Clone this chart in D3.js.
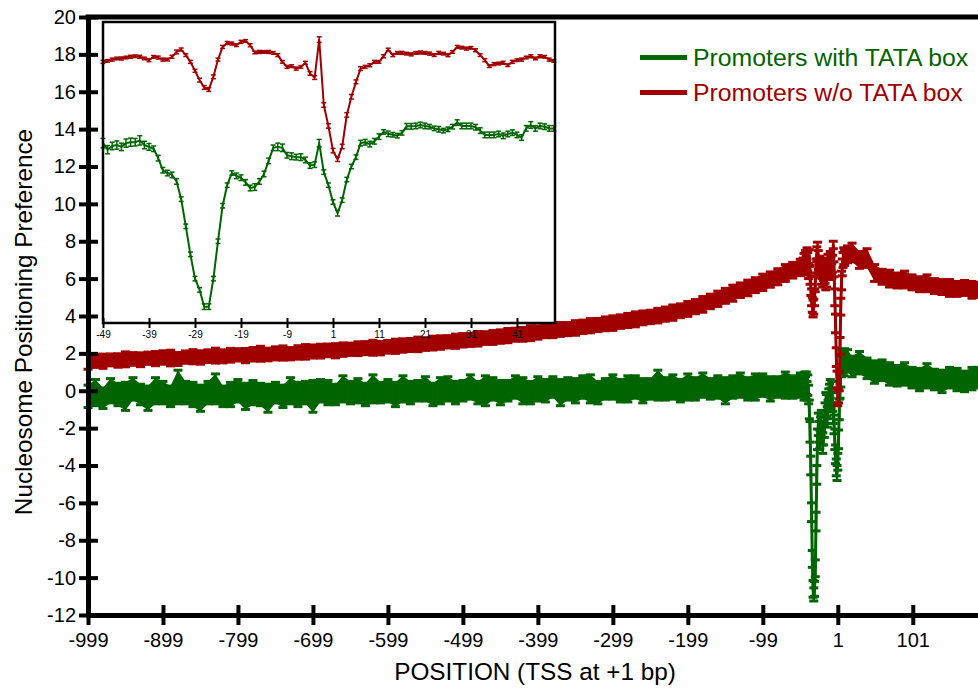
<!DOCTYPE html>
<html>
<head>
<meta charset="utf-8">
<script src="https://cdn.jsdelivr.net/npm/d3@7"></script>
<style>
  body { margin: 0; background: #fff; }
  svg { display: block; }
</style>
</head>
<body>
<svg id="chart" width="978" height="689"></svg>
<script>
// ---- Main chart data (position relative to TSS, bp) ----
// far upstream sampled every 10 bp, around the TSS every bp, downstream every ~10 bp
const farPositions = d3.range(-999, -48, 10);
const nearPositions = d3.range(-45, 11, 1);
const downPositions = [14, 20, 30, 40, 50, 60, 70, 80, 90, 100, 110, 120, 130, 140, 150, 160, 170, 180, 188];

const withTataFar = [
  -0.3, -0.1, -0.4, 0.0, -0.2, -0.3, 0.1, -0.2, -0.4, 0.0,
  -0.1, -0.3, 0.2, -0.1, -0.2, -0.4, -0.1, 0.1, -0.3, -0.2,
  0.0, -0.3, -0.1, -0.2, -0.4, -0.1, -0.3, 0.0, -0.2, -0.1,
  -0.3, 0.0, -0.1, -0.2, 0.1, -0.1, 0.0, -0.2, 0.1, -0.1,
  0.0, -0.2, 0.1, -0.1, 0.0, 0.1, -0.2, 0.0, 0.1, -0.1,
  0.0, 0.2, -0.1, 0.0, 0.1, -0.1, 0.0, 0.2, 0.0, -0.1,
  0.1, 0.0, 0.2, -0.1, 0.1, 0.0, 0.2, 0.1, -0.1, 0.1,
  0.2, 0.0, 0.1, 0.2, 0.0, 0.1, 0.3, 0.1, 0.2, 0.0,
  0.2, 0.1, 0.3, 0.1, 0.2, 0.0, 0.2, 0.3, 0.1, 0.2,
  0.3, 0.1, 0.2, 0.3, 0.2, 0.3
];
const withTataNear = [
  0.3, 0.1, 0.5, 0.2, 0.4, 0.0, 0.3, -0.2, -1.0, -2.2,
  -4.0, -6.5, -9.0, -10.6, -10.9, -10.6, -9.5, -7.0, -4.5, -2.6,
  -1.8, -2.2, -2.6, -2.0, -1.6, -2.3, -2.8, -2.4, -1.9, -1.2,
  -0.6, -0.8, -1.4, -1.0, -0.5, -0.2, 0.1, -0.4, -0.1, -0.6,
  -1.2, -1.8, -2.6, -3.4, -4.1, -4.4, -3.8, -2.6, -1.0, 0.2,
  0.8, 1.3, 1.6, 1.5, 1.4, 1.7
];
const withTataDown = [1.6, 1.3, 1.5, 1.2, 1.0, 1.1, 0.9, 0.8, 0.9, 0.7, 0.6, 0.8, 0.6, 0.5, 0.7, 0.6, 0.5, 0.65, 0.7];

const withTataFarErr = [
  0.6, 0.7, 0.55, 0.65, 0.6, 0.75, 0.6, 0.55, 0.65, 0.7,
  0.6, 0.55, 0.9, 0.6, 0.65, 0.7, 0.6, 0.8, 0.55, 0.65,
  0.6, 0.7, 0.65, 0.6, 0.75, 0.55, 0.6, 0.7, 0.65, 0.6,
  0.85, 0.6, 0.65, 0.55, 0.7, 0.6, 0.65, 0.6, 0.75, 0.55,
  0.6, 0.65, 0.7, 0.6, 0.55, 0.65, 0.6, 0.7, 0.65, 0.6,
  0.55, 0.65, 0.6, 0.8, 0.6, 0.65, 0.55, 0.6, 0.7, 0.6,
  0.65, 0.6, 0.55, 0.7, 0.6, 0.65, 0.6, 0.75, 0.6, 0.55,
  0.65, 0.6, 0.7, 0.6, 0.65, 0.55, 0.8, 0.6, 0.65, 0.6,
  0.7, 0.6, 0.65, 0.55, 0.6, 0.7, 0.6, 0.65, 0.6, 0.7,
  0.6, 0.65, 0.55, 0.7, 0.6, 0.65
];
const withTataNearErr = [
  0.5, 0.6, 0.5, 0.55, 0.6, 0.5, 0.55, 0.5, 0.5, 0.55,
  0.5, 0.5, 0.45, 0.45, 0.35, 0.4, 0.45, 0.5, 0.5, 0.55,
  0.6, 0.55, 0.5, 0.6, 0.55, 0.6, 0.55, 0.5, 0.6, 0.55,
  0.5, 0.6, 0.55, 0.5, 0.6, 0.55, 0.5, 0.55, 0.6, 0.5,
  0.55, 0.5, 0.55, 0.5, 0.45, 0.4, 0.45, 0.5, 0.55, 0.6,
  0.6, 0.55, 0.6, 0.55, 0.6, 0.55
];
const withTataDownErr = [0.6, 0.55, 0.6, 0.55, 0.6, 0.55, 0.6, 0.55, 0.6, 0.55, 0.6, 0.65, 0.55, 0.6, 0.55, 0.6, 0.55, 0.6, 0.55];

const noTataFar = [
  1.55, 1.6, 1.58, 1.65, 1.62, 1.68, 1.7, 1.66, 1.74, 1.72,
  1.78, 1.75, 1.7, 1.8, 1.82, 1.78, 1.85, 1.88, 1.84, 1.9,
  1.92, 1.88, 1.95, 1.98, 1.94, 2.0, 2.02, 1.98, 2.05, 2.08,
  2.1, 2.12, 2.16, 2.14, 2.2, 2.22, 2.25, 2.28, 2.3, 2.28,
  2.35, 2.38, 2.42, 2.45, 2.48, 2.5, 2.55, 2.58, 2.62, 2.65,
  2.7, 2.72, 2.78, 2.82, 2.85, 2.9, 2.95, 3.0, 3.02, 3.08,
  3.12, 3.18, 3.22, 3.28, 3.3, 3.36, 3.42, 3.48, 3.52, 3.58,
  3.62, 3.7, 3.76, 3.82, 3.9, 3.95, 4.02, 4.1, 4.18, 4.28,
  4.38, 4.5, 4.62, 4.78, 4.92, 5.08, 5.22, 5.38, 5.5, 5.65,
  5.8, 5.95, 6.1, 6.3, 6.45, 6.6
];
const noTataNear = [
  6.7, 6.9, 6.6, 7.0, 6.8, 7.2, 6.9, 6.4, 7.1, 6.2,
  5.6, 5.0, 4.6, 4.4, 4.5, 5.0, 5.8, 6.6, 7.3, 7.5,
  7.0, 6.6, 6.8, 6.5, 6.2, 6.4, 6.0, 6.3, 6.6, 6.2,
  5.8, 6.0, 6.5, 6.8, 6.4, 6.6, 7.0, 6.7, 6.4, 6.8,
  7.8, 6.5, 5.0, 3.6, 1.8, 0.6, -0.4, -0.3, 0.5, 2.4,
  4.5, 5.9, 6.6, 7.0, 7.2, 7.1
];
const noTataDown = [7.3, 7.4, 7.0, 7.1, 6.3, 6.1, 6.0, 5.9, 5.95, 5.8, 5.7, 5.75, 5.6, 5.55, 5.5, 5.45, 5.5, 5.4, 5.4];

const noTataFarErr = [
  0.4, 0.35, 0.38, 0.32, 0.36, 0.4, 0.34, 0.37, 0.33, 0.38,
  0.36, 0.42, 0.35, 0.33, 0.38, 0.36, 0.34, 0.4, 0.35, 0.37,
  0.33, 0.38, 0.36, 0.4, 0.34, 0.35, 0.38, 0.33, 0.36, 0.39,
  0.35, 0.37, 0.34, 0.38, 0.36, 0.33, 0.37, 0.35, 0.4, 0.36,
  0.34, 0.38, 0.36, 0.35, 0.39, 0.34, 0.37, 0.36, 0.33, 0.38,
  0.36, 0.35, 0.39, 0.34, 0.37, 0.36, 0.38, 0.35, 0.37, 0.4,
  0.36, 0.34, 0.38, 0.37, 0.35, 0.39, 0.36, 0.38, 0.35, 0.37,
  0.39, 0.36, 0.38, 0.4, 0.37, 0.36, 0.39, 0.38, 0.41, 0.37,
  0.4, 0.38, 0.42, 0.39, 0.41, 0.4, 0.43, 0.39, 0.42, 0.4,
  0.44, 0.41, 0.43, 0.45, 0.42, 0.44
];
const noTataNearErr = [
  0.4, 0.45, 0.4, 0.5, 0.4, 0.45, 0.5, 0.4, 0.45, 0.5,
  0.5, 0.45, 0.4, 0.45, 0.4, 0.45, 0.5, 0.45, 0.4, 0.45,
  0.5, 0.45, 0.4, 0.45, 0.5, 0.4, 0.45, 0.4, 0.5, 0.45,
  0.4, 0.45, 0.4, 0.5, 0.45, 0.4, 0.45, 0.5, 0.4, 0.45,
  0.2, 0.4, 0.45, 0.5, 0.5, 0.45, 0.4, 0.35, 0.5, 0.45,
  0.45, 0.5, 0.45, 0.4, 0.45, 0.4
];
const noTataDownErr = [0.45, 0.5, 0.45, 0.5, 0.45, 0.4, 0.45, 0.4, 0.45, 0.4, 0.4, 0.45, 0.4, 0.4, 0.45, 0.4, 0.4, 0.45, 0.4];

// ---- Inset data (-49 .. 49 bp) ----
const insetPositions = d3.range(-49, 50, 1);

const insetWithTata = [
  13.25, 12.9, 13.1, 13.15, 13.05, 13.25, 13.3, 13.3, 13.4, 13.15,
  13.05, 12.95, 12.45, 11.8, 11.65, 11.55, 11.2, 10.25, 8.8, 7.3,
  6.0, 5.4, 4.5, 4.5, 6.0, 8.0, 9.9, 11.0, 11.65, 11.5,
  11.4, 11.15, 10.85, 10.9, 11.2, 11.6, 12.3, 13.0, 13.05, 13.0,
  12.6, 12.55, 12.5, 12.5, 12.35, 12.05, 12.1, 13.25, 11.7, 11.0,
  10.1, 9.5, 10.2, 11.3, 12.0, 12.5, 13.25, 13.3, 13.2, 13.35,
  13.6, 13.85, 13.75, 13.7, 13.65, 13.8, 14.15, 14.15, 14.17, 14.22,
  14.17, 14.13, 14.04, 13.99, 13.92, 13.99, 14.13, 14.35, 14.17, 14.17,
  14.17, 14.1, 13.92, 13.69, 13.69, 13.69, 13.74, 13.64, 13.74, 13.81,
  13.69, 13.55, 14.04, 14.22, 14.04, 14.17, 14.13, 14.04, 14.04
];
const insetWithTataErr = [
  0.25, 0.22, 0.2, 0.22, 0.2, 0.22, 0.22, 0.2, 0.25, 0.2,
  0.18, 0.15, 0.15, 0.15, 0.15, 0.15, 0.15, 0.12, 0.12, 0.12,
  0.12, 0.12, 0.15, 0.15, 0.12, 0.12, 0.12, 0.12, 0.12, 0.15,
  0.15, 0.15, 0.15, 0.18, 0.15, 0.15, 0.15, 0.15, 0.2, 0.2,
  0.15, 0.18, 0.15, 0.18, 0.15, 0.15, 0.15, 0.2, 0.12, 0.12,
  0.12, 0.15, 0.12, 0.12, 0.12, 0.12, 0.15, 0.15, 0.15, 0.15,
  0.15, 0.12, 0.15, 0.12, 0.12, 0.12, 0.15, 0.15, 0.15, 0.15,
  0.15, 0.12, 0.12, 0.15, 0.12, 0.12, 0.12, 0.15, 0.15, 0.15,
  0.15, 0.15, 0.15, 0.15, 0.15, 0.15, 0.15, 0.15, 0.15, 0.15,
  0.15, 0.15, 0.15, 0.18, 0.15, 0.15, 0.15, 0.15, 0.15
];
const insetNoTata = [
  17.6, 17.65, 17.72, 17.78, 17.78, 17.83, 17.87, 17.9, 17.87, 17.78,
  17.69, 17.87, 17.83, 17.72, 17.72, 17.87, 18.13, 18.26, 17.96, 17.6,
  17.12, 16.62, 16.23, 16.12, 16.8, 17.72, 18.4, 18.61, 18.58, 18.49,
  18.67, 18.72, 18.49, 18.1, 18.13, 18.13, 18.13, 18.08, 17.96, 17.6,
  17.33, 17.37, 17.24, 17.33, 17.55, 16.98, 16.76, 18.79, 15.29, 14.17,
  12.85, 12.39, 13.07, 14.76, 15.73, 16.53, 17.24, 17.33, 17.42, 17.6,
  17.6, 17.9, 18.26, 17.96, 18.08, 18.08, 18.04, 18.0, 18.08, 18.1,
  18.08, 18.04, 17.96, 18.08, 18.04, 17.96, 18.13, 18.4, 18.36, 18.31,
  18.35, 18.22, 17.96, 17.69, 17.37, 17.48, 17.51, 17.55, 17.42, 17.6,
  17.69, 17.72, 17.83, 17.9, 17.78, 17.9, 17.87, 17.72, 17.65
];
const insetNoTataErr = [
  0.08, 0.07, 0.08, 0.07, 0.08, 0.07, 0.08, 0.07, 0.08, 0.07,
  0.08, 0.07, 0.08, 0.08, 0.07, 0.08, 0.1, 0.08, 0.07, 0.08,
  0.08, 0.1, 0.1, 0.1, 0.1, 0.08, 0.08, 0.08, 0.08, 0.07,
  0.08, 0.07, 0.08, 0.07, 0.08, 0.07, 0.08, 0.07, 0.08, 0.07,
  0.08, 0.07, 0.08, 0.07, 0.08, 0.1, 0.1, 0.15, 0.12, 0.12,
  0.12, 0.12, 0.12, 0.12, 0.12, 0.1, 0.1, 0.08, 0.08, 0.08,
  0.07, 0.08, 0.07, 0.08, 0.07, 0.08, 0.07, 0.08, 0.07, 0.08,
  0.07, 0.08, 0.07, 0.08, 0.07, 0.08, 0.07, 0.08, 0.07, 0.08,
  0.07, 0.08, 0.07, 0.08, 0.07, 0.08, 0.07, 0.08, 0.07, 0.08,
  0.07, 0.08, 0.07, 0.08, 0.07, 0.08, 0.07, 0.08, 0.07
];

// Axis ticks and labels
const mainXTicks = d3.range(-999, 102, 100);
const mainYTicks = d3.range(-12, 21, 2);
const insetXTicks = d3.range(-49, 42, 10);
const seriesNames = ['Promoters with TATA box', 'Promoters w/o TATA box'];

const GREEN = '#006400';
const RED = '#a00000';
const FONT = 'Arial, "Liberation Sans", sans-serif';
const plainNum = d => String(d); // hyphen minus, as in the original

const svg = d3.select('#chart');

// Scales
const x = d3.scaleLinear().domain([-999, 188]).range([88, 978]);
const y = d3.scaleLinear().domain([-12, 20]).range([615, 17]);
const xInset = d3.scaleLinear().domain([-49, 49.26]).range([103, 555]);

const mainPositions = farPositions.concat(nearPositions, downPositions);

function toPoints(positions, values, errors) {
    return positions.map((p, i) => ({ p: p, v: values[i], e: errors[i] }));
}

// Draw a series: optional error band, line, error bars with caps
function drawSeries(g, pts, xs, color, opt) {
    if (opt.band) {
        g.append('path')
            .datum(pts)
            .attr('fill', color)
            .attr('d', d3.area()
                .x(d => xs(d.p))
                .y0(d => y(d.v - d.e))
                .y1(d => y(d.v + d.e)));
    }
    g.append('path')
        .datum(pts)
        .attr('fill', 'none')
        .attr('stroke', color)
        .attr('stroke-width', opt.lineWidth)
        .attr('stroke-linejoin', 'round')
        .attr('d', d3.line().x(d => xs(d.p)).y(d => y(d.v)));

    const bars = g.append('g')
        .attr('stroke', color)
        .selectAll('g')
        .data(pts)
        .join('g');
    bars.append('line')
        .attr('x1', d => xs(d.p)).attr('x2', d => xs(d.p))
        .attr('y1', d => y(d.v - d.e)).attr('y2', d => y(d.v + d.e))
        .attr('stroke-width', opt.barWidth);
    [-1, 1].forEach(s => {
        bars.append('line')
            .attr('x1', d => xs(d.p) - opt.cap / 2).attr('x2', d => xs(d.p) + opt.cap / 2)
            .attr('y1', d => y(d.v + s * d.e)).attr('y2', d => y(d.v + s * d.e))
            .attr('stroke-width', opt.capWidth);
    });
}

// ---- Main series ----
const mainOpt = { band: true, lineWidth: 3, barWidth: 2.5, cap: 9, capWidth: 3 };
drawSeries(svg.append('g'),
    toPoints(mainPositions, withTataFar.concat(withTataNear, withTataDown),
        withTataFarErr.concat(withTataNearErr, withTataDownErr)),
    x, GREEN, mainOpt);
drawSeries(svg.append('g'),
    toPoints(mainPositions, noTataFar.concat(noTataNear, noTataDown),
        noTataFarErr.concat(noTataNearErr, noTataDownErr)),
    x, RED, mainOpt);

// ---- Main axes ----
const gy = svg.append('g')
    .attr('transform', 'translate(88,0)')
    .call(d3.axisLeft(y).tickValues(mainYTicks).tickFormat(plainNum)
        .tickSize(9).tickSizeOuter(0).tickPadding(3));
gy.attr('font-size', 20).attr('font-family', FONT);
gy.select('.domain').attr('stroke', '#000').attr('stroke-width', 5).attr('stroke-linecap', 'square');
gy.selectAll('.tick line').attr('x1', 10).attr('stroke', '#000').attr('stroke-width', 4);
gy.selectAll('.tick text').attr('fill', '#000');

const gx = svg.append('g')
    .attr('transform', 'translate(0,615)')
    .call(d3.axisBottom(x).tickValues(mainXTicks).tickFormat(plainNum)
        .tickSize(10).tickSizeOuter(0).tickPadding(8));
gx.attr('font-size', 20).attr('font-family', FONT);
gx.select('.domain').attr('stroke', '#000').attr('stroke-width', 5).attr('stroke-linecap', 'square');
gx.selectAll('.tick line').attr('y1', -10).attr('stroke', '#000').attr('stroke-width', 4);
gx.selectAll('.tick text').attr('fill', '#000');

// top frame line
svg.append('line')
    .attr('x1', x(-999)).attr('x2', x(188))
    .attr('y1', y(20)).attr('y2', y(20))
    .attr('stroke', '#000').attr('stroke-width', 5).attr('stroke-linecap', 'square');

// axis titles
svg.append('text')
    .attr('x', 535).attr('y', 680)
    .attr('text-anchor', 'middle')
    .attr('font-family', FONT).attr('font-size', 24.3)
    .text('POSITION (TSS at +1 bp)');
svg.append('text')
    .attr('transform', 'translate(32,322) rotate(-90)')
    .attr('text-anchor', 'middle')
    .attr('font-family', FONT).attr('font-size', 24.3)
    .text('Nucleosome Positioning Preference');

// ---- Inset ----
const inset = svg.append('g');
inset.append('rect')
    .attr('x', xInset(-49)).attr('y', 22)
    .attr('width', xInset.range()[1] - xInset.range()[0]).attr('height', 301)
    .attr('fill', '#fff');

const insetOpt = { band: false, lineWidth: 2, barWidth: 1.5, cap: 5, capWidth: 1.5 };
drawSeries(inset.append('g'), toPoints(insetPositions, insetWithTata, insetWithTataErr), xInset, GREEN, insetOpt);
drawSeries(inset.append('g'), toPoints(insetPositions, insetNoTata, insetNoTataErr), xInset, RED, insetOpt);

inset.append('rect')
    .attr('x', xInset(-49)).attr('y', 22)
    .attr('width', xInset.range()[1] - xInset.range()[0]).attr('height', 301)
    .attr('fill', 'none').attr('stroke', '#000').attr('stroke-width', 2.5);

const gxi = inset.append('g')
    .attr('transform', 'translate(0,323)')
    .call(d3.axisBottom(xInset).tickValues(insetXTicks).tickFormat(plainNum)
        .tickSize(5).tickSizeOuter(0).tickPadding(3));
gxi.attr('font-size', 10).attr('font-family', FONT);
gxi.select('.domain').remove();
gxi.selectAll('.tick line').attr('y1', -5).attr('stroke', '#000').attr('stroke-width', 2);
gxi.selectAll('.tick text').attr('fill', '#000');

// ---- Legend ----
const legend = svg.append('g').selectAll('g')
    .data(seriesNames)
    .join('g')
    .attr('transform', (d, i) => `translate(640,${57.5 + i * 35})`);
legend.append('line')
    .attr('x1', 0).attr('x2', 47)
    .attr('stroke', (d, i) => i === 0 ? GREEN : RED)
    .attr('stroke-width', 5);
legend.append('text')
    .attr('x', 53).attr('y', 8)
    .attr('font-family', FONT).attr('font-size', 24.8)
    .attr('fill', (d, i) => i === 0 ? GREEN : RED)
    .text(d => d);
</script>
</body>
</html>
